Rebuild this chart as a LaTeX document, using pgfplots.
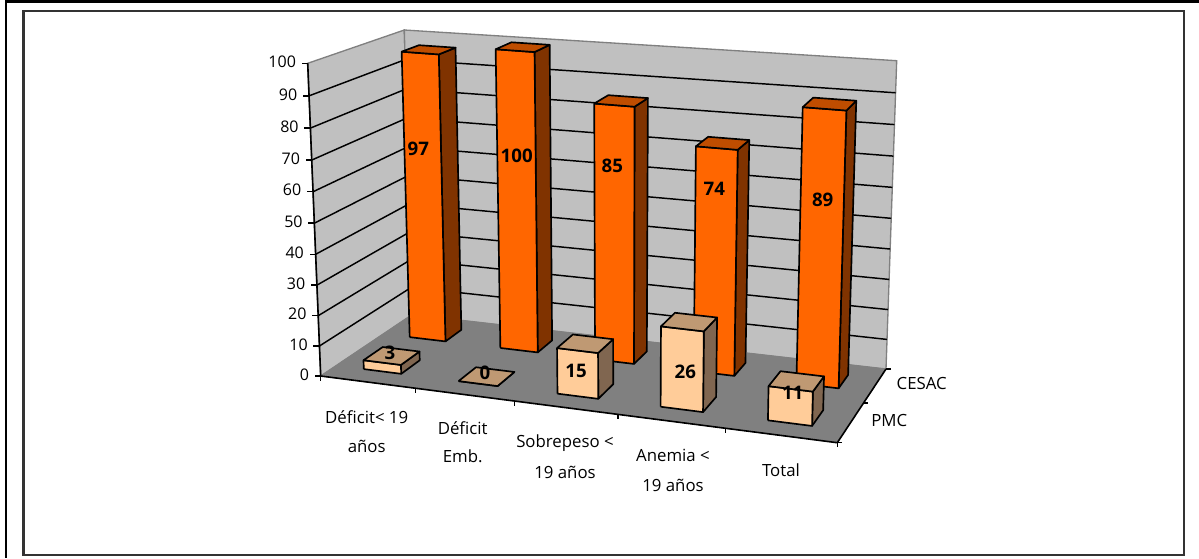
\documentclass[border=0pt]{standalone}
\usepackage{pgfplots}
\pgfplotsset{compat=1.18}
\usepackage{fontspec}
\setmainfont{Open Sans}
\definecolor{wall}{HTML}{C0C0C0}
\definecolor{floorc}{HTML}{808080}
\definecolor{oF}{HTML}{FF6600}
\definecolor{oS}{HTML}{803300}
\definecolor{oT}{HTML}{BF4D00}
\definecolor{pF}{HTML}{FFCC99}
\definecolor{pS}{HTML}{806650}
\definecolor{pT}{HTML}{BF9973}
\tikzset{declare function={
  Su(\pu)=(\pu/5)-0.103*(\pu/5)*(1-\pu/5);
  Tv(\pv)=\pv+0.156*\pv*(1-\pv);
  Zw(\pz)=(\pz/100)-0.045*(\pz/100)*(1-\pz/100);
  BL(\ps,\pt,\pa,\pb,\pc,\pe)=(1-\pt)*((1-\ps)*\pa+\ps*\pb)+\pt*((1-\ps)*\pe+\ps*\pc);
  PX(\pu,\pv,\pz)=(1-Zw(\pz))*BL(Su(\pu),Tv(\pv),320.7,837.3,886,412)+Zw(\pz)*BL(Su(\pu),Tv(\pv),307.7,846,896.7,404.3);
  PY(\pu,\pv,\pz)=(1-Zw(\pz))*BL(Su(\pu),Tv(\pv),376,442.7,369,314.7)+Zw(\pz)*BL(Su(\pu),Tv(\pv),63.3,112.7,60.7,30);
}}
% a polygon given in chart coordinates: u (0..5), v (0..1), z (0..100)
\newcommand\Poly[2]{\addplot[#1] table[row sep=\\,
  x expr={PX(\thisrow{u},\thisrow{v},\thisrow{z})},
  y expr={PY(\thisrow{u},\thisrow{v},\thisrow{z})}]{u v z\\ #2};}
% one face of a bar: category, row offset, value, colour, unit corners
\newcommand\Face[5]{\addplot[fill=#4,draw=black,line width=1.25pt,line join=round] table[row sep=\\,
  x expr={PX(#1+0.3+0.4*\thisrow{a},#2+0.15+0.2*\thisrow{b},#3*\thisrow{c})},
  y expr={PY(#1+0.3+0.4*\thisrow{a},#2+0.15+0.2*\thisrow{b},#3*\thisrow{c})}]{a b c\\ #5};}
\newcommand\Bar[5]{%
  \Face{#1}{#2}{#3}{#5}{1 0 0\\1 1 0\\1 1 1\\1 0 1\\1 0 0\\}% side
  \Face{#1}{#2}{#3}{#4}{0 0 0\\1 0 0\\1 0 1\\0 0 1\\0 0 0\\}% front
}
\newcommand\Top[4]{\Face{#1}{#2}{#3}{#4}{0 0 1\\1 0 1\\1 1 1\\0 1 1\\0 0 1\\}}
\newcommand\Lab[3]{\node[font=\fontsize{12.6}{14}\selectfont,inner sep=0pt,anchor=center] at (axis cs:#1,#2) {#3};}
\newcommand\Val[3]{\node[font=\fontsize{14}{14}\selectfont\bfseries,inner sep=0pt,anchor=center] at (axis cs:#1,#2) {#3};}
\begin{document}
\begin{tikzpicture}
\begin{axis}[scale only axis,width=899.25pt,height=418.5pt,
  xmin=0,xmax=1199,ymin=0,ymax=558,y dir=reverse,axis lines=none,clip=false]
\path (axis cs:0,0) rectangle (axis cs:1199,558);
% page border
\fill[black] (axis cs:5,0) rectangle (axis cs:7,558);
\fill[black] (axis cs:5,0) rectangle (axis cs:1199,3);
\draw[line width=1.6pt,draw=black!80] (axis cs:23.5,11) rectangle (axis cs:1184,555);
% walls and floor
\Poly{fill=wall,draw=floorc,line width=1pt}{0 0 0\\0 1 0\\0 1 100\\0 0 100\\0 0 0\\}
\Poly{fill=wall,draw=floorc,line width=1pt}{0 1 0\\5 1 0\\5 1 100\\0 1 100\\0 1 0\\}
\Poly{fill=floorc,draw=floorc,line width=0.5pt}{0 0 0\\5 0 0\\5 1 0\\0 1 0\\0 0 0\\}
% gridlines
\pgfplotsinvokeforeach{10,20,30,40,50,60,70,80,90}{
  \Poly{draw=black,line width=1.1pt}{0 0 #1\\0 1 #1\\5 1 #1\\}
}
% axis lines
\Poly{draw=black,line width=1.2pt}{0 0 100\\0 0 0\\5 0 0\\5 1 0\\}
% value-axis ticks and labels
\pgfplotsinvokeforeach{0,10,20,30,40,50,60,70,80,90,100}{
  \draw[black,line width=1.1pt] (axis cs:{PX(0,0,#1)},{PY(0,0,#1)}) -- ++(-4.5pt,0);
  \node[font=\fontsize{12}{14}\selectfont,inner sep=0pt,anchor=east] at (axis cs:{PX(0,0,#1)-11.5},{PY(0,0,#1)-1.5}) {#1};
}
% category ticks
\pgfplotsinvokeforeach{0,1,2,3,4,5}{
  \draw[black,line width=1.1pt] (axis cs:{PX(#1,0,0)},{PY(#1,0,0)}) -- ++(0,-3.5pt);
}
% depth ticks
\pgfplotsinvokeforeach{0,0.5,1}{
  \draw[black,line width=1.1pt] (axis cs:{PX(5,#1,0)},{PY(5,#1,0)}) -- ++(3.7pt,0);
}
% CESAC row (back)
\Bar{0}{0.5}{97}{oF}{oS}\Top{0}{0.5}{97}{oT}
\Bar{1}{0.5}{100}{oF}{oS}\Top{1}{0.5}{100}{oT}
\Bar{2}{0.5}{85}{oF}{oS}\Top{2}{0.5}{85}{oT}
\Bar{3}{0.5}{74}{oF}{oS}\Top{3}{0.5}{74}{oT}
\Bar{4}{0.5}{89}{oF}{oS}\Top{4}{0.5}{89}{oT}
% PMC row (front)
\Bar{0}{0}{3}{pF}{pS}\Top{0}{0}{3}{pT}
\Bar{1}{0}{0}{pF}{pS}\Top{1}{0}{0}{pT}
\Bar{2}{0}{15}{pF}{pS}\Top{2}{0}{15}{pT}
\Bar{3}{0}{26}{pF}{pS}\Top{3}{0}{26}{pT}
\Bar{4}{0}{11}{pF}{pS}\Top{4}{0}{11}{pT}
% value labels
\Val{418.3}{149.3}{97}\Val{516.7}{155.7}{100}\Val{612.3}{166}{85}\Val{714.3}{189.3}{74}\Val{822.7}{200.3}{89}
\Val{390}{352.7}{3}\Val{485}{373.3}{0}\Val{576}{370.7}{15}\Val{685.3}{372.3}{26}\Val{792.7}{393.3}{11}
% category labels
\Lab{366.7}{416.7}{Déficit< 19}\Lab{366.7}{446}{años}
\Lab{462.7}{428}{Déficit}\Lab{462.7}{456.7}{Emb.}
\Lab{565}{442.7}{Sobrepeso <}\Lab{565}{472.3}{19 años}
\Lab{673}{455}{Anemia <}\Lab{673}{485}{19 años}
\Lab{781}{470}{Total}
\Lab{921.7}{383.3}{CESAC}\Lab{889.3}{420.7}{PMC}
\end{axis}
\end{tikzpicture}
\end{document}
